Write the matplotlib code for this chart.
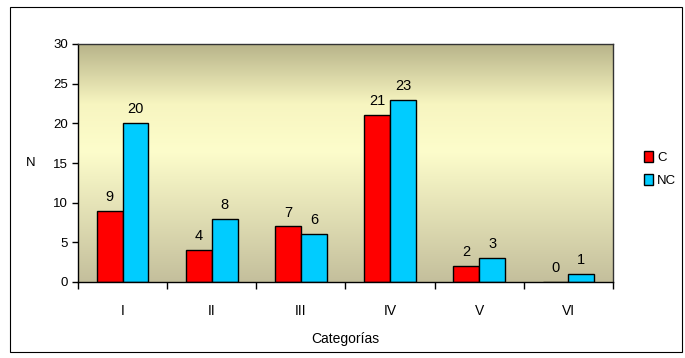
"""Grouped bar chart of counts by category, C vs NC."""

import matplotlib.pyplot as plt
import numpy as np
from matplotlib.colors import LinearSegmentedColormap
from matplotlib.patches import Rectangle

categories = ["I", "II", "III", "IV", "V", "VI"]
c_values = [9, 4, 7, 21, 2, 0]
nc_values = [20, 8, 6, 23, 3, 1]

plt.rcParams["font.family"] = ["Liberation Sans", "DejaVu Sans"]
plt.rcParams["font.size"] = 9

fig = plt.figure(figsize=(6.85, 3.58), dpi=100)
ax = fig.add_axes([78 / 685, 1 - 282 / 358, (613 - 78) / 685, (282 - 44) / 358])

# frame round the whole chart
fig.patches.append(Rectangle((10 / 685, 6 / 358), 672 / 685, 345 / 358,
                             transform=fig.transFigure, fill=False,
                             edgecolor="black", linewidth=0.8))

x = np.arange(len(categories))
width = 0.29

# khaki background: darker at top and bottom, pale yellow in the middle
bg = LinearSegmentedColormap.from_list(
    "khaki", [(0.0, "#c4bf9c"), (0.55, "#fdfdcb"), (0.75, "#f7f5c0"), (1.0, "#b8b48a")])
grad = np.linspace(0, 1, 256).reshape(-1, 1)
ax.imshow(grad, cmap=bg, aspect="auto", extent=(-0.5, len(categories) - 0.5, 0, 30),
          origin="lower", zorder=0)

bars_c = ax.bar(x - width / 2, c_values, width, color="#ff0000", edgecolor="black",
                linewidth=1, label="C", zorder=2)
bars_nc = ax.bar(x + width / 2, nc_values, width, color="#00ccff", edgecolor="black",
                 linewidth=1, label="NC", zorder=2)

for bars in (bars_c, bars_nc):
    for b in bars:
        h = b.get_height()
        ax.annotate(f"{h:g}", (b.get_x() + b.get_width() / 2, h),
                    xytext=(0, 5), textcoords="offset points",
                    ha="center", va="bottom", fontsize=10.5)

ax.set_xlim(-0.5, len(categories) - 0.5)
ax.set_ylim(0, 30)
ax.set_yticks(range(0, 31, 5))
ax.set_xticks(np.arange(len(categories) + 1) - 0.5)
ax.set_xticklabels([])
ax.set_xticks(x, minor=True)
ax.set_xticklabels(categories, minor=True, fontsize=10)
ax.tick_params(axis="x", which="major", length=5, direction="out", width=1)
ax.tick_params(axis="x", which="minor", length=0, pad=16)
ax.tick_params(axis="y", length=4, direction="out", width=1, labelsize=9.5, pad=3)

for s in ax.spines.values():
    s.set_linewidth(1)
    s.set_color("#333333")
ax.spines["bottom"].set_color("black")
ax.spines["left"].set_color("black")

ax.set_xlabel("Categorías", fontsize=10, labelpad=10)
ax.set_ylabel("N", rotation=0, fontsize=9.5, labelpad=16, va="center")

fig.legend(handles=[bars_c, bars_nc], labels=["C", "NC"], loc="center left",
           bbox_to_anchor=(632 / 685, 1 - 169 / 358), frameon=False,
           handlelength=0.7, handleheight=0.9, handletextpad=0.3,
           labelspacing=0.8, fontsize=9.5)

fig.savefig("out.png", dpi=100)
